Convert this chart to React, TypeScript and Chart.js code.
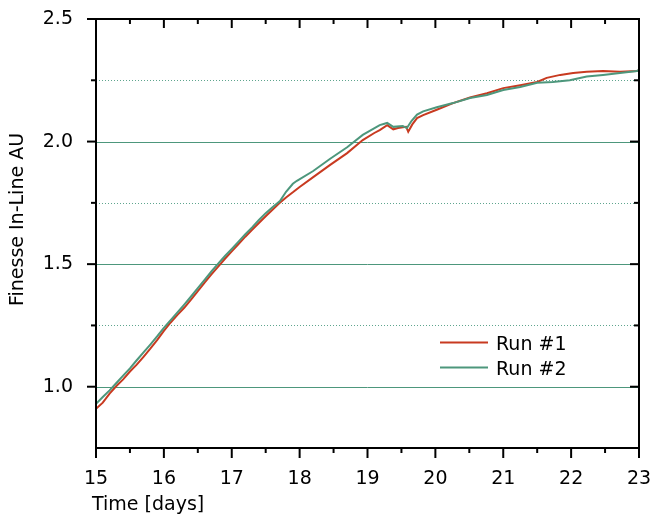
import React, { useEffect, useRef } from "react";
import { Chart, registerables } from "chart.js";

Chart.register(...registerables);

// ---- data ----
const run1Days = [
  15.0, 15.1, 15.2, 15.3, 15.4, 15.5, 15.6, 15.7, 15.8, 15.9, 16.0, 16.1, 16.2, 16.3, 16.4, 16.5,
  16.6, 16.7, 16.8, 16.9, 17.0, 17.1, 17.2, 17.3, 17.4, 17.5, 17.6, 17.7, 17.8, 17.9, 18.0, 18.2,
  18.45, 18.7, 18.93, 19.1, 19.18, 19.29, 19.38, 19.45, 19.52, 19.57, 19.6, 19.66, 19.73, 19.82,
  20.02, 20.26, 20.51, 20.76, 21.0, 21.25, 21.5, 21.64, 21.84, 22.03, 22.23, 22.47, 22.72, 22.97, 23.0,
];
const run1Values = [
  0.91, 0.935, 0.972, 1.003, 1.03, 1.062, 1.09, 1.122, 1.155, 1.19, 1.228, 1.262, 1.293, 1.322, 1.355, 1.39,
  1.425, 1.458, 1.49, 1.522, 1.552, 1.582, 1.612, 1.64, 1.668, 1.695, 1.722, 1.748, 1.772, 1.793, 1.815, 1.855,
  1.905, 1.953, 2.006, 2.035, 2.047, 2.067, 2.05, 2.055, 2.058, 2.06, 2.04, 2.07, 2.096, 2.108,
  2.13, 2.157, 2.18, 2.197, 2.218, 2.23, 2.243, 2.26, 2.272, 2.28, 2.285, 2.288, 2.285, 2.288, 2.29,
];
const run2Days = [
  15.0, 15.1, 15.2, 15.3, 15.4, 15.5, 15.6, 15.7, 15.8, 15.9, 16.0, 16.1, 16.2, 16.3, 16.4, 16.5,
  16.6, 16.7, 16.8, 16.9, 17.0, 17.1, 17.2, 17.3, 17.4, 17.5, 17.6, 17.71, 17.8, 17.9, 17.96, 18.2,
  18.45, 18.7, 18.93, 19.18, 19.29, 19.38, 19.52, 19.58, 19.65, 19.73, 19.82, 20.02, 20.26, 20.51,
  20.76, 21.0, 21.25, 21.5, 21.73, 21.98, 22.23, 22.47, 22.72, 22.97, 23.0,
];
const run2Values = [
  0.93, 0.958, 0.985, 1.015, 1.045, 1.075, 1.108, 1.14, 1.172, 1.205, 1.24, 1.272, 1.303, 1.335, 1.368, 1.402,
  1.436, 1.47, 1.502, 1.533, 1.562, 1.592, 1.622, 1.65, 1.68, 1.708, 1.732, 1.757, 1.795, 1.828, 1.84, 1.88,
  1.93, 1.977, 2.027, 2.067, 2.076, 2.06, 2.063, 2.055, 2.085, 2.11, 2.123, 2.14, 2.157, 2.178,
  2.19, 2.21, 2.223, 2.24, 2.243, 2.25, 2.265, 2.272, 2.28, 2.288, 2.292,
];
const seriesLabels = ["Run #1", "Run #2"];
const xTickLabels = [15, 16, 17, 18, 19, 20, 21, 22, 23];
const yTickLabels = [1.0, 1.5, 2.0, 2.5];
const solidGrid = [1.0, 1.5, 2.0];
const dottedGrid = [1.25, 1.75, 2.25];
const xMinorTicks = [15.5, 16.5, 17.5, 18.5, 19.5, 20.5, 21.5, 22.5];
const yMinorTicks = [1.25, 1.75, 2.25];
const xTitle = "Time [days]";
const yTitle = "Finesse In-Line AU";

const RED = "#c83a20";
const GREEN = "#4d977c";
const FONT = "DejaVu Sans";

export default function App() {
  const ref = useRef<HTMLCanvasElement>(null);

  useEffect(() => {
    if (!ref.current) return;

    const decor = {
      id: "decor",
      beforeDatasetsDraw(chart: any) {
        const { ctx, chartArea, scales } = chart;
        const y = scales.y;
        ctx.save();
        ctx.lineWidth = 1;
        ctx.strokeStyle = GREEN;
        ctx.setLineDash([]);
        solidGrid.forEach((v) => {
          const py = Math.round(y.getPixelForValue(v)) + 0.5;
          ctx.beginPath();
          ctx.moveTo(chartArea.left, py);
          ctx.lineTo(chartArea.right, py);
          ctx.stroke();
        });
        ctx.strokeStyle = "#5fa58e";
        ctx.setLineDash([1, 2]);
        dottedGrid.forEach((v) => {
          const py = Math.round(y.getPixelForValue(v)) + 0.5;
          ctx.beginPath();
          ctx.moveTo(chartArea.left, py);
          ctx.lineTo(chartArea.right, py);
          ctx.stroke();
        });
        ctx.restore();
      },
      afterDatasetsDraw(chart: any) {
        const { ctx, chartArea, scales } = chart;
        const { left, right, top, bottom } = chartArea;
        const x = scales.x;
        const y = scales.y;
        ctx.save();
        ctx.strokeStyle = "#000";
        ctx.lineWidth = 2;
        ctx.setLineDash([]);
        ctx.strokeRect(left, top, right - left, bottom - top);
        const line = (x1: number, y1: number, x2: number, y2: number) => {
          ctx.beginPath();
          ctx.moveTo(x1, y1);
          ctx.lineTo(x2, y2);
          ctx.stroke();
        };
        xTickLabels.forEach((v) => {
          const px = x.getPixelForValue(v);
          line(px, bottom, px, bottom + 10);
          line(px, top, px, top + 9);
        });
        xMinorTicks.forEach((v) => {
          const px = x.getPixelForValue(v);
          line(px, bottom, px, bottom + 5);
          line(px, top, px, top + 5);
        });
        yTickLabels.forEach((v) => {
          const py = y.getPixelForValue(v);
          line(left - 9, py, left, py);
          line(right - 9, py, right, py);
        });
        yMinorTicks.forEach((v) => {
          const py = y.getPixelForValue(v);
          line(left - 5, py, left, py);
          line(right - 5, py, right, py);
        });
        ctx.restore();
      },
      afterDraw(chart: any) {
        const { ctx, chartArea } = chart;
        ctx.save();
        ctx.fillStyle = "#000";
        ctx.font = `19px "${FONT}"`;
        ctx.textBaseline = "alphabetic";
        ctx.textAlign = "left";
        ctx.fillText(xTitle, 92, 510);
        ctx.save();
        ctx.translate(23, (chartArea.top + chartArea.bottom) / 2 - 14);
        ctx.rotate(-Math.PI / 2);
        ctx.textAlign = "center";
        ctx.fillText(yTitle, 0, 0);
        ctx.restore();
        // legend
        const colors = [RED, GREEN];
        seriesLabels.forEach((lab, i) => {
          const ly = 342.5 + i * 25;
          ctx.strokeStyle = colors[i];
          ctx.lineWidth = 2;
          ctx.beginPath();
          ctx.moveTo(440, ly);
          ctx.lineTo(488, ly);
          ctx.stroke();
          ctx.fillStyle = "#000";
          ctx.textAlign = "left";
          ctx.fillText(lab, 496, ly + 7.5);
        });
        ctx.restore();
      },
    };

    const chart = new Chart(ref.current, {
      type: "line",
      data: {
        datasets: [
          {
            label: seriesLabels[0],
            data: run1Days.map((d, i) => ({ x: d, y: run1Values[i] })),
            borderColor: RED,
            backgroundColor: RED,
            borderWidth: 2,
            pointRadius: 0,
            tension: 0,
            order: 1,
          },
          {
            label: seriesLabels[1],
            data: run2Days.map((d, i) => ({ x: d, y: run2Values[i] })),
            borderColor: GREEN,
            backgroundColor: GREEN,
            borderWidth: 2,
            pointRadius: 0,
            tension: 0,
            order: 0,
          },
        ],
      },
      options: {
        responsive: false,
        animation: false,
        layout: { padding: { top: 19, right: 11, left: 0, bottom: 0 } },
        plugins: { legend: { display: false }, tooltip: { enabled: false } },
        scales: {
          x: {
            type: "linear",
            min: 15,
            max: 23,
            grid: { display: false, drawTicks: false },
            border: { display: false },
            ticks: {
              padding: 20,
              color: "#000",
              font: { family: FONT, size: 19 },
              maxRotation: 0,
              callback: (v: any) => String(v),
            },
            afterBuildTicks: (s: any) => {
              s.ticks = xTickLabels.map((v) => ({ value: v }));
            },
            afterFit: (s: any) => {
              s.height = 74;
              s.paddingLeft = 0;
              s.paddingRight = 0;
            },
          },
          y: {
            type: "linear",
            min: 0.75,
            max: 2.5,
            grid: { display: false, drawTicks: false },
            border: { display: false },
            ticks: {
              padding: 23,
              color: "#000",
              font: { family: FONT, size: 19 },
              callback: (v: any) => Number(v).toFixed(1),
            },
            afterBuildTicks: (s: any) => {
              s.ticks = yTickLabels.map((v) => ({ value: v }));
            },
            afterFit: (s: any) => {
              s.width = 96;
              s.paddingTop = 0;
              s.paddingBottom = 0;
            },
          },
        },
      },
      plugins: [decor],
    } as any);

    return () => chart.destroy();
  }, []);

  return (
    <div style={{ position: "fixed", left: 0, top: 0, width: 650, height: 522, background: "#fff" }}>
      <canvas ref={ref} width={650} height={522} style={{ display: "block" }} />
    </div>
  );
}
